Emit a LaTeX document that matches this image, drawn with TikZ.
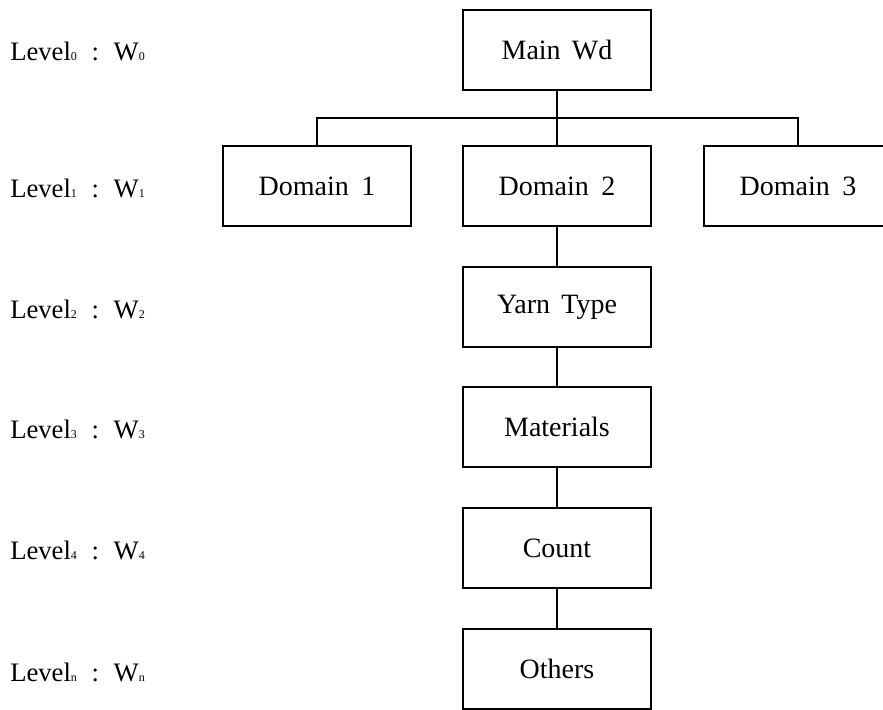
\documentclass[tikz,border=0pt]{standalone}
\usepackage{fontspec}
\setmainfont{Liberation Serif}
\usepackage{tikz}

\newcommand{\lsub}[1]{{\fontsize{9}{9}\selectfont #1}}
\newcommand{\lvl}[1]{Level\lsub{#1}\hspace{0.55em}:\hspace{0.55em}W\lsub{#1}}

\begin{document}
\begin{tikzpicture}[x=0.75pt,y=-0.75pt]
\tikzstyle{every node}+=[inner sep=0pt]
\tikzstyle{wdbox}=[draw=black,line width=1pt,minimum width=141pt,minimum height=60pt,font=\fontsize{21}{25}\selectfont]
\tikzstyle{levtext}=[anchor=base west,font=\fontsize{20}{24}\selectfont]
\tikzstyle{tie}=[black,line width=1pt]
\clip (0,0) rectangle (883,710);
% level labels
\node [levtext] (lv0) at (10,61) {\lvl{0}};
\node [levtext] (lv1) at (10,198) {\lvl{1}};
\node [levtext] (lv2) at (10,318) {\lvl{2}};
\node [levtext] (lv3) at (10,438) {\lvl{3}};
\node [levtext] (lv4) at (10,559) {\lvl{4}};
\node [levtext] (lvn) at (10,681) {\lvl{n}};
% word boxes
\node [wdbox] (main) at (557,50) {Main\hspace{0.4em}Wd};
\node [wdbox] (dom1) at (317,186) {Domain\hspace{0.45em}1};
\node [wdbox] (dom2) at (557,186) {Domain\hspace{0.45em}2};
\node [wdbox] (dom3) at (798,186) {Domain\hspace{0.45em}3};
\node [wdbox] (yarn) at (557,307) {Yarn\hspace{0.4em}Type};
\node [wdbox] (mat) at (557,427) {Materials};
\node [wdbox] (count) at (557,548) {Count};
\node [wdbox] (others) at (557,669) {Others};
% links
\coordinate (fork) at (557,118);
\draw [tie] (main) -- (dom2);
\draw [tie] (dom1.north) |- (fork) -| (dom3.north);
\draw [tie] (dom2) -- (yarn);
\draw [tie] (yarn) -- (mat);
\draw [tie] (mat) -- (count);
\draw [tie] (count) -- (others);
\end{tikzpicture}
\end{document}
